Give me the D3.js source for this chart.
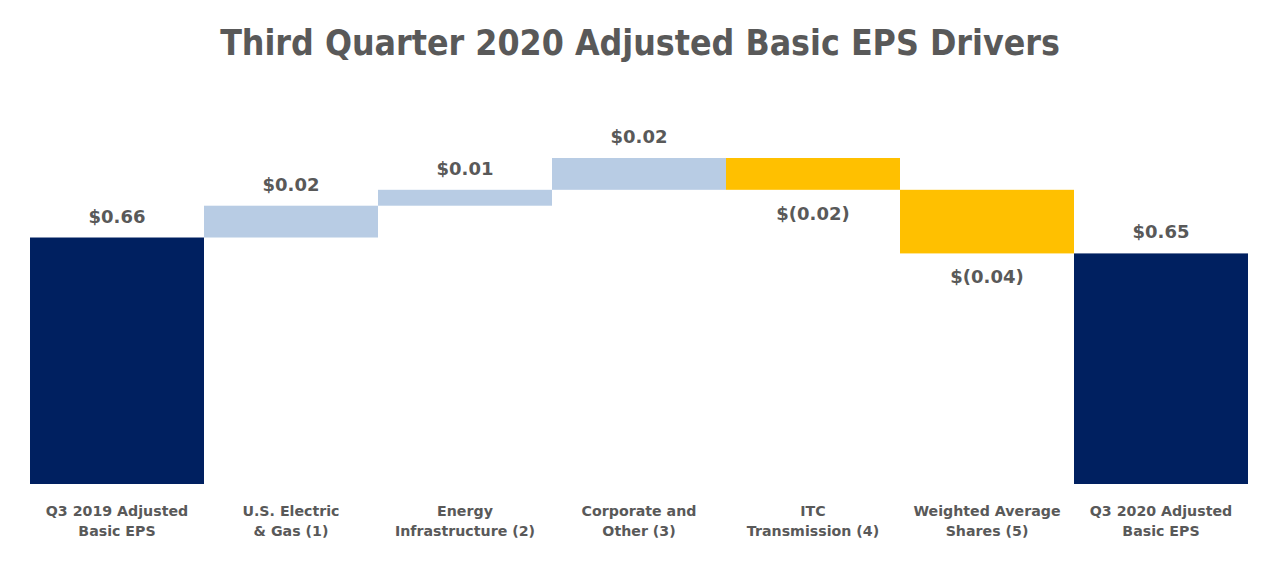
<!DOCTYPE html>
<html><head><meta charset="utf-8">
<script src="https://cdn.jsdelivr.net/npm/d3@7"></script>
<style>body{margin:0;background:#fff;} svg{display:block;}</style>
</head><body>
<svg id="chart" width="1278" height="568"></svg>
<script>
const categories = [
  ["Q3 2019 Adjusted", "Basic EPS"],
  ["U.S. Electric", "& Gas (1)"],
  ["Energy", "Infrastructure (2)"],
  ["Corporate and", "Other (3)"],
  ["ITC", "Transmission (4)"],
  ["Weighted Average", "Shares (5)"],
  ["Q3 2020 Adjusted", "Basic EPS"]
];
const values = [0.66, 0.02, 0.01, 0.02, -0.02, -0.04, 0.65];
const kinds = ["total", "delta", "delta", "delta", "delta", "delta", "total"];
const valueLabels = ["$0.66", "$0.02", "$0.01", "$0.02", "$(0.02)", "$(0.04)", "$0.65"];
const title = "Third Quarter 2020 Adjusted Basic EPS Drivers";

const svg = d3.select("#chart");
const font = "'DejaVu Sans', Verdana, sans-serif";
const grey = "#595959";

const x = d3.scaleBand().domain(d3.range(values.length)).range([30, 1248]).padding(0);
const y = d3.scaleLinear().domain([0.505, 0.71]).range([484, 158]);

let run = 0;
const bars = values.map((v, i) => {
  let y0, y1;
  if (kinds[i] === "total") { y0 = y.domain()[0]; y1 = v; run = v; }
  else { y0 = run; y1 = run + v; run = y1; }
  return {i, v, kind: kinds[i], lo: Math.min(y0, y1), hi: Math.max(y0, y1)};
});
const color = d => d.kind === "total" ? "#002060" : (d.v >= 0 ? "#B8CCE4" : "#FFC000");

svg.selectAll("rect.bar").data(bars).join("rect")
  .attr("class", "bar")
  .attr("x", d => x(d.i))
  .attr("width", x.bandwidth())
  .attr("y", d => y(d.hi))
  .attr("height", d => y(d.lo) - y(d.hi))
  .attr("fill", color);

svg.selectAll("text.val").data(bars).join("text")
  .attr("class", "val")
  .attr("x", d => x(d.i) + x.bandwidth() / 2)
  .attr("y", d => d.v >= 0 ? y(d.hi) - 15 : y(d.lo) + 30)
  .attr("text-anchor", "middle")
  .attr("font-family", font).attr("font-weight", "bold")
  .attr("font-size", 18).attr("fill", grey)
  .text(d => valueLabels[d.i]);

const cat = svg.selectAll("text.cat").data(categories).join("text")
  .attr("class", "cat")
  .attr("text-anchor", "middle")
  .attr("font-family", font).attr("font-weight", "bold")
  .attr("font-size", 14.2).attr("fill", grey);
cat.each(function(lines, i) {
  d3.select(this).selectAll("tspan").data(lines).join("tspan")
    .attr("x", x(i) + x.bandwidth() / 2)
    .attr("y", (l, j) => 516 + j * 20)
    .text(l => l);
});

const t = svg.append("text")
  .attr("x", 640).attr("y", 55)
  .attr("text-anchor", "middle")
  .attr("font-family", "'DejaVu Sans Condensed', 'DejaVu Sans', sans-serif")
  .attr("font-stretch", "condensed")
  .attr("font-weight", "bold")
  .attr("font-size", 32).attr("fill", grey)
  .text(title);
const w = t.node().getComputedTextLength();
t.attr("font-size", 32 * 840 / w);
</script>
</body></html>
